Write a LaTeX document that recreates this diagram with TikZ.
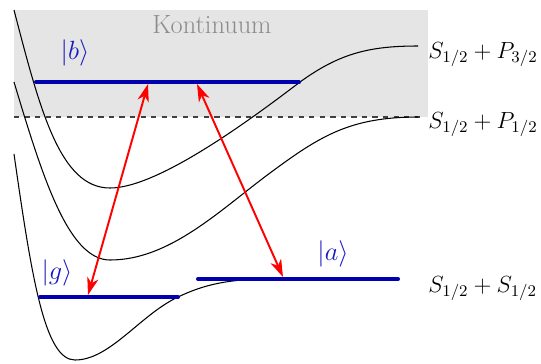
\RequirePackage{fix-cm}
\documentclass[tikz,border=0pt]{standalone}
\usepackage{amsmath}
\usetikzlibrary{arrows.meta}
\definecolor{levelblue}{RGB}{0,0,175}
\definecolor{ketblue}{RGB}{25,25,195}
\definecolor{contgray}{RGB}{229,229,229}

\begin{document}
\begin{tikzpicture}[x=0.02cm, y=-0.02cm, font=\fontsize{13.3}{16}\selectfont,
    level/.style={levelblue, line width=2.3pt, line cap=round},
    trans/.style={red, line width=1.1pt,
      {Stealth[length=10pt,width=6.5pt,inset=3pt]}-{Stealth[length=10pt,width=6.5pt,inset=3pt]}},
    pot/.style={black, line width=0.6pt},
    ket/.style={ketblue, inner sep=0pt, font=\fontsize{15}{18}\selectfont},
    asym/.style={anchor=base west, inner sep=0pt}]
  \useasboundingbox (0,0) rectangle (541,363);

  % Continuum above the P_{1/2} threshold
  \fill[contgray] (14,10) rectangle (428,117);
  \draw[dashed, black!75, line width=0.6pt] (14,117) -- (420,117);
  \node[black!45, inner sep=0pt, font=\fontsize{15}{18}\selectfont] (kont) at (212,25) {Kontinuum};

  % Potential curves
  \draw[pot] (14,10) .. controls (40,110) and (60,188) .. (110,188)
    .. controls (158,188) and (250,120) .. (300,82)
    .. controls (340,53) and (370,46) .. (418,46);
  \draw[pot] (14,82) .. controls (42,175) and (68,260) .. (110,260)
    .. controls (170,260) and (220,210) .. (270,173)
    .. controls (320,136) and (350,117) .. (418,117);
  \draw[pot] (14,154) .. controls (32,280) and (45,360) .. (75,360)
    .. controls (110,360) and (140,315) .. (178,297)
    .. controls (205,284) and (230,279) .. (270,279) -- (398,279);

  % Bound levels
  \coordinate (bL) at (36,82);   \coordinate (bR) at (299,82);
  \coordinate (gL) at (40,297);  \coordinate (gR) at (178,297);
  \coordinate (aL) at (198,279); \coordinate (aR) at (398,279);
  \draw[level] (bL) -- (bR);
  \draw[level] (gL) -- (gR);
  \draw[level] (aL) -- (aR);

  \node[ket] (bket) at (75,53) {$|b\rangle$};
  \node[ket] (gket) at (57,273) {$|g\rangle$};
  \node[ket] (aket) at (333,254) {$|a\rangle$};

  % Transitions
  \coordinate (g1) at (88,295);  \coordinate (b1) at (148,84);
  \coordinate (b2) at (197,84);  \coordinate (a1) at (283,277);
  \draw[trans] (g1) -- (b1);
  \draw[trans] (b2) -- (a1);

  % Asymptotes
  \node[asym] (p32) at (428,58) {$S_{1/2}+P_{3/2}$};
  \node[asym] (p12) at (428,128) {$S_{1/2}+P_{1/2}$};
  \node[asym] (s12) at (428,292) {$S_{1/2}+S_{1/2}$};
\end{tikzpicture}
\end{document}
